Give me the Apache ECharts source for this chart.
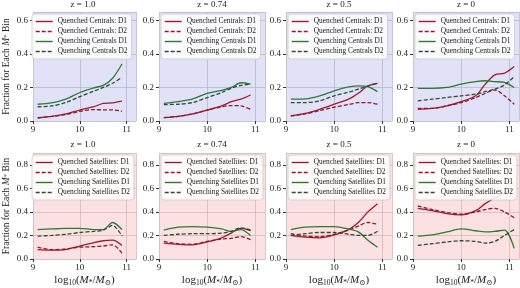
<!DOCTYPE html>
<html>
<head>
<meta charset="utf-8">
<script src="https://cdn.jsdelivr.net/npm/echarts@6/dist/echarts.min.js"></script>
<style>
html, body { margin: 0; padding: 0; background: #fff; }
#chart { width: 520px; height: 288px; }
</style>
</head>
<body>
<div id="chart"></div>
<script>
// stellar mass bin centres, log10(M*/Msun)
var xMass = [9.1, 9.4, 9.7, 10.0, 10.3, 10.5, 10.7, 10.9];
var xMassZ0 = [9.1, 9.4, 9.7, 10.0, 10.3, 10.5, 10.7, 10.9, 11.1];
var redshifts = ['z = 1.0', 'z = 0.74', 'z = 0.5', 'z = 0'];
var cenNames = ['Quenched Centrals: D1', 'Quenched Centrals: D2', 'Quenching Centrals D1', 'Quenching Centrals D2'];
var satNames = ['Quenched Satellites: D1', 'Quenched Satellites: D2', 'Quenching Satellites D1', 'Quenching Satellites D2'];
var xTicks = [9, 10, 11];

// centrals
var cenZ10QD1 = [0.02, 0.028, 0.042, 0.065, 0.085, 0.105, 0.108, 0.118];
var cenZ10QD2 = [0.018, 0.027, 0.038, 0.058, 0.068, 0.066, 0.066, 0.058];
var cenZ10GD1 = [0.1, 0.108, 0.13, 0.17, 0.198, 0.212, 0.255, 0.34];
var cenZ10GD2 = [0.085, 0.09, 0.11, 0.145, 0.178, 0.2, 0.225, 0.26];

var cenZ074QD1 = [0.02, 0.028, 0.042, 0.065, 0.09, 0.115, 0.13, 0.155];
var cenZ074QD2 = [0.02, 0.028, 0.042, 0.065, 0.085, 0.092, 0.09, 0.07];
var cenZ074GD1 = [0.105, 0.115, 0.132, 0.165, 0.182, 0.2, 0.228, 0.22];
var cenZ074GD2 = [0.098, 0.1, 0.11, 0.14, 0.17, 0.195, 0.212, 0.22];

var cenZ05QD1 = [0.03, 0.045, 0.07, 0.1, 0.13, 0.165, 0.21, 0.225];
var cenZ05QD2 = [0.03, 0.042, 0.062, 0.082, 0.098, 0.11, 0.11, 0.1];
var cenZ05GD1 = [0.13, 0.132, 0.15, 0.18, 0.203, 0.21, 0.205, 0.175];
var cenZ05GD2 = [0.11, 0.11, 0.12, 0.15, 0.172, 0.19, 0.208, 0.225];

var cenZ0QD1 = [0.07, 0.075, 0.09, 0.115, 0.15, 0.22, 0.275, 0.285, 0.325];
var cenZ0QD2 = [0.075, 0.075, 0.09, 0.11, 0.14, 0.165, 0.185, 0.15, 0.1];
var cenZ0GD1 = [0.195, 0.195, 0.2, 0.22, 0.235, 0.24, 0.235, 0.23, 0.2];
var cenZ0GD2 = [0.12, 0.13, 0.14, 0.15, 0.16, 0.175, 0.19, 0.215, 0.265];

// satellites
var satZ10QD1 = [0.08, 0.075, 0.08, 0.11, 0.14, 0.155, 0.16, 0.115];
var satZ10QD2 = [0.1, 0.08, 0.085, 0.1, 0.105, 0.11, 0.12, 0.05];
var satZ10GD1 = [0.25, 0.255, 0.26, 0.26, 0.25, 0.25, 0.31, 0.25];
var satZ10GD2 = [0.195, 0.2, 0.21, 0.225, 0.235, 0.245, 0.285, 0.195];

var satZ074QD1 = [0.135, 0.125, 0.12, 0.145, 0.18, 0.22, 0.26, 0.24];
var satZ074QD2 = [0.15, 0.13, 0.125, 0.15, 0.17, 0.175, 0.19, 0.165];
var satZ074GD1 = [0.245, 0.27, 0.275, 0.27, 0.255, 0.235, 0.25, 0.2];
var satZ074GD2 = [0.2, 0.21, 0.215, 0.215, 0.22, 0.235, 0.265, 0.245];

var satZ05QD1 = [0.2, 0.185, 0.18, 0.205, 0.25, 0.31, 0.4, 0.47];
var satZ05QD2 = [0.215, 0.195, 0.19, 0.21, 0.245, 0.28, 0.31, 0.295];
var satZ05GD1 = [0.25, 0.27, 0.275, 0.275, 0.255, 0.23, 0.16, 0.1];
var satZ05GD2 = [0.2, 0.215, 0.225, 0.225, 0.21, 0.2, 0.2, 0.235];

var satZ0QD1 = [0.43, 0.41, 0.385, 0.375, 0.41, 0.47, 0.52, 0.56, 0.6];
var satZ0QD2 = [0.45, 0.42, 0.395, 0.38, 0.4, 0.42, 0.43, 0.4, 0.35];
var satZ0GD1 = [0.195, 0.205, 0.23, 0.255, 0.24, 0.23, 0.235, 0.245, 0.09];
var satZ0GD2 = [0.115, 0.13, 0.145, 0.155, 0.15, 0.135, 0.15, 0.2, 0.25];

var FONT = "'Liberation Serif', 'DejaVu Serif', serif";
var lineColors = ['#9e1b2f', '#8e1a2c', '#2e7a34', '#2f4a35'];
var gridLefts = [30, 159, 286, 413];
var gridTops = [12, 153];
var gridW = 106, gridH = 109;

var panels = [
    { row: 0, col: 0, x: xMass, names: cenNames, sets: [cenZ10QD1, cenZ10QD2, cenZ10GD1, cenZ10GD2] },
    { row: 0, col: 1, x: xMass, names: cenNames, sets: [cenZ074QD1, cenZ074QD2, cenZ074GD1, cenZ074GD2] },
    { row: 0, col: 2, x: xMass, names: cenNames, sets: [cenZ05QD1, cenZ05QD2, cenZ05GD1, cenZ05GD2] },
    { row: 0, col: 3, x: xMassZ0, names: cenNames, sets: [cenZ0QD1, cenZ0QD2, cenZ0GD1, cenZ0GD2] },
    { row: 1, col: 0, x: xMass, names: satNames, sets: [satZ10QD1, satZ10QD2, satZ10GD1, satZ10GD2] },
    { row: 1, col: 1, x: xMass, names: satNames, sets: [satZ074QD1, satZ074QD2, satZ074GD1, satZ074GD2] },
    { row: 1, col: 2, x: xMass, names: satNames, sets: [satZ05QD1, satZ05QD2, satZ05GD1, satZ05GD2] },
    { row: 1, col: 3, x: xMassZ0, names: satNames, sets: [satZ0QD1, satZ0QD2, satZ0GD1, satZ0GD2] }
];

var grids = [], xAxes = [], yAxes = [], series = [], legends = [], titles = [];

var yName = 'Fraction for Each {it|M}{sub|*} Bin';
var xName = 'log{sub|10}({it|M}{sub|*}/{it|M}{sub|⊙})';

panels.forEach(function (p, i) {
    var top = p.row === 0;
    var left = gridLefts[p.col];
    var gtop = gridTops[p.row];

    grids.push({
        left: left, top: gtop, width: gridW, height: gridH,
        show: true,
        backgroundColor: top ? '#e1e1f8' : '#fbe1e1',
        borderColor: '#ffffff', borderWidth: 0
    });

    xAxes.push({
        type: 'value', gridIndex: i, min: 9, max: 11.2, interval: 1,
        axisLine: { show: true, lineStyle: { color: '#c8c8c8', width: 0.8 } },
        axisTick: { show: true, length: 3, lineStyle: { color: '#333' } },
        axisLabel: {
            margin: 4, fontSize: 9, fontFamily: FONT, color: '#222',
            showMaxLabel: false,
            formatter: function (v) { return xTicks.indexOf(v) >= 0 ? String(v) : ''; }
        },
        splitLine: { show: true, lineStyle: { color: top ? '#b6b6d2' : '#d8b8b8', width: 0.8 } },
        name: top ? '' : xName,
        nameLocation: 'middle', nameGap: 15,
        nameTextStyle: {
            fontSize: 11, fontFamily: FONT, color: '#222',
            rich: {
                it: { fontSize: 11, fontStyle: 'italic', fontFamily: FONT, color: '#222' },
                sub: { fontSize: 7.5, fontFamily: FONT, color: '#222', verticalAlign: 'bottom', padding: [5, 0, 0, 0] }
            }
        }
    });

    yAxes.push({
        type: 'value', gridIndex: i, min: 0, max: top ? 0.65 : 0.9, interval: 0.2,
        axisLine: { show: true, lineStyle: { color: '#c8c8c8', width: 0.8 } },
        axisTick: { show: true, length: 3, lineStyle: { color: '#333' } },
        axisLabel: {
            margin: 5, fontSize: 9, fontFamily: FONT, color: '#222',
            showMaxLabel: false,
            formatter: function (v) { return v.toFixed(1); }
        },
        splitLine: { show: true, lineStyle: { color: top ? '#b6b6d2' : '#d8b8b8', width: 0.8 } },
        name: p.col === 0 ? yName : '',
        nameLocation: 'middle', nameGap: 22, nameRotate: 90,
        nameTextStyle: {
            fontSize: 9.5, fontFamily: FONT, color: '#222',
            rich: {
                it: { fontSize: 9.5, fontStyle: 'italic', fontFamily: FONT, color: '#222' },
                sub: { fontSize: 7, fontFamily: FONT, color: '#222' }
            }
        }
    });

    p.sets.forEach(function (vals, k) {
        series.push({
            type: 'line', name: p.names[k],
            xAxisIndex: i, yAxisIndex: i,
            data: p.x.map(function (x, j) { return [x, vals[j]]; }),
            symbol: 'none', smooth: 0.3,
            lineStyle: { color: lineColors[k], width: 1.3, type: k % 2 ? [4, 2] : 'solid' },
            itemStyle: { color: lineColors[k] },
            z: 2
        });
    });

    legends.push({
        data: p.names, orient: 'vertical',
        left: left + 2, top: gtop + 2,
        itemWidth: 17, itemHeight: 8, itemGap: 3,
        padding: [4, 4, 4, 3],
        selectedMode: false,
        itemStyle: { opacity: 0 },
        lineStyle: { width: 1.4 },
        backgroundColor: 'rgba(255,255,255,0.85)',
        borderColor: '#cccccc', borderWidth: 0.8, borderRadius: 3,
        textStyle: { fontSize: 7.4, fontFamily: FONT, color: '#222' }
    });

    titles.push({
        text: redshifts[p.col],
        left: left + gridW / 2, top: top ? 0 : 140,
        textAlign: 'center', padding: 0,
        textStyle: { fontSize: 9, fontWeight: 'normal', fontFamily: FONT, color: '#222' }
    });
});

var chart = echarts.init(document.getElementById('chart'));
chart.setOption({
    animation: false,
    title: titles,
    grid: grids,
    xAxis: xAxes,
    yAxis: yAxes,
    legend: legends,
    series: series
});
</script>
</body>
</html>
